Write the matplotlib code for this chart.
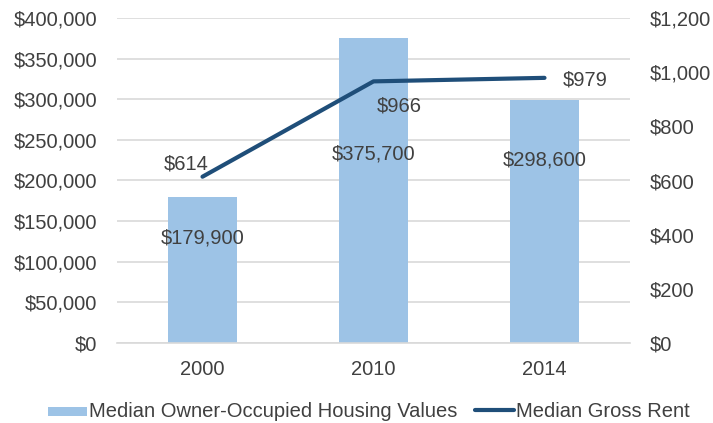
import matplotlib
matplotlib.use("Agg")
import matplotlib.pyplot as plt
from matplotlib.patches import Rectangle
from matplotlib.lines import Line2D
import numpy as np

years = ["2000", "2010", "2014"]
home_values = [179900, 375700, 298600]
gross_rent = [614, 966, 979]
legend_labels = ["Median Owner-Occupied Housing Values", "Median Gross Rent"]

# label offsets in points (hand-tuned to match the reference)
value_offsets = [(0, -29.5), (0, -84), (0, -43)]
rent_offsets = [(-11.5, 9.4), (18.7, -18), (29, -1.4)]

BAR_COLOR = "#9DC3E6"
LINE_COLOR = "#1F4E79"
TEXT_COLOR = "#404040"
W, H = 713, 423

plt.rcParams["font.family"] = ["Liberation Sans", "DejaVu Sans"]
plt.rcParams["font.size"] = 14.5

fig = plt.figure(figsize=(W / 100, H / 100), dpi=100)
ax = fig.add_axes([117 / W, 1 - 343 / H, (630 - 117) / W, (343 - 18) / H])
ax2 = ax.twinx()

x = np.arange(len(years))
ax.bar(x, home_values, width=0.405, color=BAR_COLOR, zorder=2)
ax2.plot(x, gross_rent, color=LINE_COLOR, linewidth=3, solid_capstyle="round", zorder=3)

ax.set_xlim(-0.5, len(years) - 0.5)
ax.set_ylim(0, 400000)
ax2.set_ylim(0, 1200)
ax.set_yticks(np.arange(0, 400001, 50000))
ax2.set_yticks(np.arange(0, 1201, 200))
ax.yaxis.set_major_formatter(plt.FuncFormatter(lambda v, p: f"${v:,.0f}"))
ax2.yaxis.set_major_formatter(plt.FuncFormatter(lambda v, p: f"${v:,.0f}"))
ax.set_xticks(x)
ax.set_xticklabels(years)

ax.grid(True, axis="y", color="#D9D9D9", linewidth=1.2, zorder=0)
ax.set_axisbelow(True)
for a in (ax, ax2):
    for side in ("top", "left", "right", "bottom"):
        a.spines[side].set_visible(False)
    a.tick_params(length=0, colors=TEXT_COLOR, labelsize=14.5)
ax.spines["bottom"].set_visible(True)
ax.spines["bottom"].set_color("#D9D9D9")
ax.spines["bottom"].set_linewidth(1.2)
ax.tick_params(axis="y", pad=14)
ax.tick_params(axis="x", pad=12)
ax2.tick_params(axis="y", pad=14)

for i, v in enumerate(home_values):
    ax.annotate(f"${v:,}", xy=(x[i], v), xytext=value_offsets[i],
                textcoords="offset points", ha="center", va="center",
                color=TEXT_COLOR, fontsize=14.5)
for i, v in enumerate(gross_rent):
    ax2.annotate(f"${v:,}", xy=(x[i], v), xytext=rent_offsets[i],
                 textcoords="offset points", ha="center", va="center",
                 color=TEXT_COLOR, fontsize=14.5)

# legend drawn by hand in figure pixels so the swatches match the reference
fig.patches.append(Rectangle((48 / W, 1 - 416 / H), 39 / W, 9 / H,
                             transform=fig.transFigure, facecolor=BAR_COLOR,
                             edgecolor="none"))
fig.text(89 / W, 1 - 411 / H, legend_labels[0], ha="left", va="center",
         color=TEXT_COLOR, fontsize=14.5)
fig.lines.append(Line2D([475 / W, 514 / W], [1 - 410 / H, 1 - 410 / H],
                        transform=fig.transFigure, color=LINE_COLOR,
                        linewidth=3, solid_capstyle="round"))
fig.text(516 / W, 1 - 411 / H, legend_labels[1], ha="left", va="center",
         color=TEXT_COLOR, fontsize=14.5)

fig.savefig("out.png", dpi=100)
